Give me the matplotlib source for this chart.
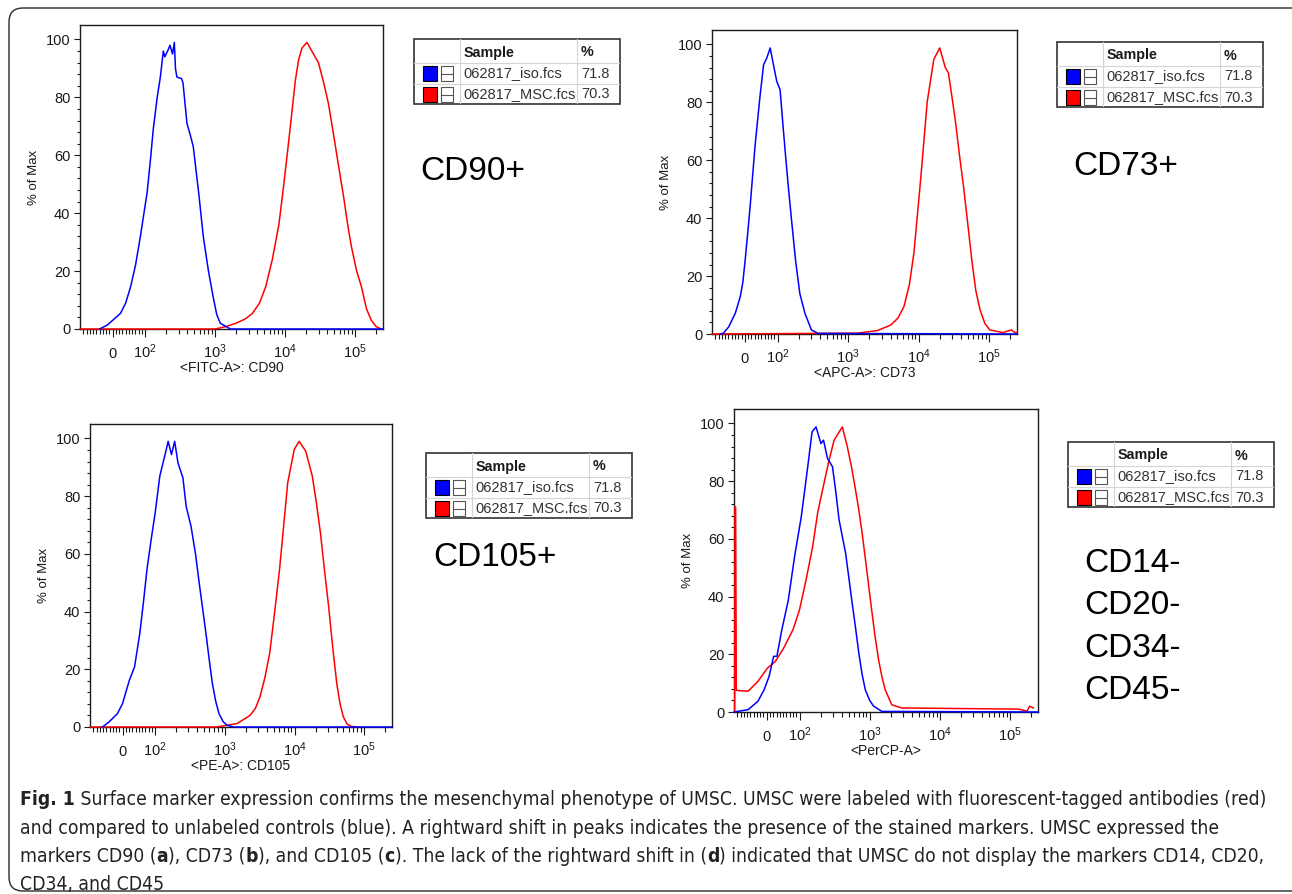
"""Flow cytometry histograms, Fig. 1 (UMSC surface markers), redrawn in matplotlib."""

import matplotlib as mpl
import matplotlib.pyplot as plt
from matplotlib import font_manager
from matplotlib.patches import Rectangle, FancyBboxPatch
from matplotlib.transforms import IdentityTransform
import numpy as np

W, H = 1292, 894
FONT = "Liberation Sans"
BLUE = "#0000ff"
RED = "#ff0000"
INK = "#1a1a1a"

mpl.rcParams.update({
    "font.family": [FONT, "DejaVu Sans"],
    "mathtext.fontset": "custom",
    "mathtext.rm": FONT,
    "mathtext.it": FONT + ":italic",
    "mathtext.bf": FONT + ":bold",
    "axes.linewidth": 1.0,
    "axes.edgecolor": INK,
})

# ---------------------------------------------------------------- data
# histogram outlines: fluorescence value, % of max
CD90_ISO_X = [-40, -16, 5, 24, 40, 55, 70, 85, 106, 118, 130, 148, 164, 181, 190,
              213, 225, 245, 260, 270, 283, 330, 346, 394, 440, 485, 580, 674,
              800, 935, 1050, 1180, 1640, 250000]
CD90_ISO_Y = [0, 1.4, 3.5, 5.4, 9, 14.6, 22, 32, 47, 58, 69, 80, 87, 96, 94,
              96.5, 98, 95, 99, 90, 87, 86.5, 85, 71, 67, 63, 47, 32,
              20, 11, 5, 2, 0, 0]
CD90_MSC_X = [-100, 1000, 1400, 1983, 2700, 3404, 4300, 5263, 6530, 8117, 9550,
              11240, 13990, 15560, 17340, 20420, 24000, 29870, 35500, 41390, 48700,
              57330, 68000, 79440, 88300, 105000, 123000, 145000, 170000, 200000,
              236000]
CD90_MSC_Y = [0, 0, 0.8, 2, 3.5, 5.4, 9, 14.6, 23.9, 36, 50,
              65, 86, 93, 97, 99, 96, 92, 85, 78, 67.7,
              57, 46, 35, 28.5, 20, 14.6, 7, 3, 0.8,
              0]

CD73_ISO_X = [-75, -65, -49, -29, -14, -6, 1, 8, 16, 31, 46, 57, 67, 77, 87, 97,
              108, 117, 127, 140, 157, 180, 206, 243, 301, 374, 250000]
CD73_ISO_Y = [0, 0.3, 2.5, 7.2, 12.9, 18, 25.6, 34, 44, 65, 82, 93, 95.4, 98.8, 93,
              87.3, 84.4, 74, 63.7, 52, 39.4, 25, 14, 7.2, 1.4, 0.2, 0]
CD73_MSC_X = [-100, 1370, 2620, 4040, 5100, 6210, 7400, 8590, 10670, 13250, 16440,
              19960, 23990, 26580, 33200, 38000, 43500, 50000, 57000, 65000, 74700,
              88000, 103000, 158000, 209000, 234000, 250000]
CD73_MSC_Y = [0, 0.3, 1.2, 3.1, 5.5, 9.5, 17, 28, 53, 80, 94.8,
              98.8, 92, 90.2, 74, 62, 51, 38, 25.6, 15, 8.3,
              3.5, 1.4, 0.5, 1.4, 0.5, 0.5]

CD105_ISO_X = [-62, -42, -16, 0, 10, 21, 37, 53, 64, 75, 88, 100, 117, 141, 154,
               172, 191, 213, 251, 279, 328, 380, 430, 537, 600, 664, 740, 826,
               950, 1080, 1340, 250000]
CD105_ISO_Y = [0, 1.7, 4.6, 8.1, 12, 16.2, 20.9, 32.4, 43, 54.5, 65, 74, 87, 95, 99,
               94.4, 99, 91.5, 86.3, 76.5, 69.5, 60, 49.8, 32.4, 23, 15, 9, 4.6,
               1.8, 0.6, 0, 0]
CD105_MSC_X = [-100, 770, 1500, 2300, 2750, 3190, 3750, 4400, 5200, 6090, 7000,
               7980, 9910, 11650, 14480, 17960, 20500, 23550, 27000, 30850, 35500,
               40400, 45000, 50100, 57000, 65600, 80000]
CD105_MSC_Y = [0, 0, 1.2, 4, 6.5, 10.4, 17, 25.5, 40, 54.5, 70,
               84.6, 96.2, 99, 95.6, 87, 78, 67.2, 54, 41.7, 27,
               15, 8, 3.5, 1, 0.2, 0]

NEG_ISO_X = [-100, -57, -27, -8, 7, 21, 31, 46, 66, 85, 106, 131, 151, 172, 202,
             220, 250, 295, 330, 366, 454, 563, 630, 700, 780, 866, 1000, 1140,
             1490, 250000]
NEG_ISO_Y = [0, 0.8, 3.7, 7.7, 12.3, 19.3, 19.3, 28.5, 38.9, 53.9, 67.7, 85, 97.1, 98.8, 93,
             94.2, 87.9, 85, 76, 66.6, 55, 37.7, 29, 20.4, 13, 7.7, 4, 2,
             0.2, 0]
NEG_MSC_X = [-98, -97, -95, -93, -57, -27, 2, 26, 51, 80, 100, 124, 154, 181, 213,
             264, 311, 366, 408, 479, 550, 628, 700, 780, 900, 1023, 1180, 1340,
             1500, 1664, 2063, 2851, 132700, 174000, 190000, 215000]
NEG_MSC_Y = [0, 71, 71, 7.5, 7.2, 10.6, 15.2, 17.5, 22, 28.5, 35.4, 45.8, 57.3, 68.9, 77,
             87.3, 94.2, 97, 98.8, 92, 85, 77, 70, 62, 50, 38.9, 27, 18,
             12, 7.7, 2.5, 1.4, 1, 0.3, 2, 1.4]

X_MAJOR = [0, 1e2, 1e3, 1e4, 1e5]
X_MAJOR_LABELS = ["0", "$10^2$", "$10^3$", "$10^4$", "$10^5$"]
Y_MAJOR = [0, 20, 40, 60, 80, 100]

SAMPLE_NAMES = ["062817_iso.fcs", "062817_MSC.fcs"]
SAMPLE_PCT = ["71.8", "70.3"]
SAMPLE_COLORS = [BLUE, RED]

MARKER_LABELS = ["CD90+", "CD73+", "CD105+", "CD14-\nCD20-\nCD34-\nCD45-"]
X_LABELS = ["<FITC-A>: CD90", "<APC-A>: CD73", "<PE-A>: CD105", "<PerCP-A>"]

CAPTION = [
    [("Fig. 1", True),
     (" Surface marker expression confirms the mesenchymal phenotype of UMSC. "
      "UMSC were labeled with fluorescent-tagged antibodies (red)", False)],
    [("and compared to unlabeled controls (blue). A rightward shift in peaks "
      "indicates the presence of the stained markers. UMSC expressed the", False)],
    [("markers CD90 (", False), ("a", True), ("), CD73 (", False), ("b", True),
     ("), and CD105 (", False), ("c", True),
     ("). The lack of the rightward shift in (", False), ("d", True),
     (") indicated that UMSC do not display the markers CD14, CD20,", False)],
    [("CD34, and CD45", False)],
]


def px_axes(fig, l, t, r, b):
    return fig.add_axes([l / W, 1 - b / H, (r - l) / W, (b - t) / H])


def minor_x():
    lin = [v for v in range(-90, 100, 10) if v != 0]
    logs = [k * 10 ** e for e in (2, 3, 4) for k in range(2, 10)] + [2e5]
    return lin + logs


def histogram(fig, rect, iso, msc, xlabel):
    ax = px_axes(fig, *rect)
    ax.set_xscale("symlog", linthresh=100, linscale=0.42, base=10)
    ax.plot(msc[0], msc[1], color=RED, lw=1.1, clip_on=False, zorder=3)
    ax.plot(iso[0], iso[1], color=BLUE, lw=1.1, clip_on=False, zorder=4)
    ax.set_xlim(-100, 250000)
    ax.set_ylim(0, 105)
    ax.set_xticks(X_MAJOR, X_MAJOR_LABELS)
    ax.set_xticks(minor_x(), minor=True)
    ax.set_yticks(Y_MAJOR)
    ax.set_yticks(np.arange(0, 101, 4), minor=True)
    ax.tick_params(axis="both", which="both", direction="out", color=INK,
                   width=0.8, labelsize=10.5, labelcolor=INK)
    ax.tick_params(axis="y", which="major", length=4.5, pad=2.5)
    ax.tick_params(axis="y", which="minor", length=2.5)
    ax.tick_params(axis="x", which="major", length=6, pad=15)
    ax.tick_params(axis="x", which="minor", length=3.5)
    for lbl in ax.get_xticklabels():
        lbl.set_va("baseline")
    h = rect[3] - rect[1]
    w = rect[2] - rect[0]
    ax.text(0.5, -39 / h, xlabel, transform=ax.transAxes, ha="center",
            va="center", fontsize=10, color=INK)
    ax.text(-46 / w, 0.5, "% of Max", transform=ax.transAxes, ha="center",
            va="center", rotation=90, fontsize=9.5, color=INK)
    return ax


def legend_table(fig, left, top):
    w, h = 206, 65
    ax = px_axes(fig, left, top, left + w, top + h)
    ax.set_xlim(0, w)
    ax.set_ylim(h, 0)
    ax.axis("off")
    grid = "#d4d4d4"
    for x in (46, 163):
        ax.plot([x, x], [0, h], color=grid, lw=0.8)
    for y in (24, 45):
        ax.plot([0, w], [y, y], color=grid, lw=0.8)
    ax.add_patch(Rectangle((0, 0), w, h, fill=False, ec="#333333", lw=1.2,
                           clip_on=False))
    ax.text(50, 13.5, "Sample", fontsize=10.3, fontweight="bold", va="center",
            color=INK)
    ax.text(167, 13.5, "%", fontsize=10.3, fontweight="bold", va="center",
            color=INK)
    for i, (name, pct, c) in enumerate(zip(SAMPLE_NAMES, SAMPLE_PCT, SAMPLE_COLORS)):
        yc = 34.5 + 21 * i
        ax.add_patch(Rectangle((9, yc - 7.5), 14, 15, fc=c, ec="black", lw=0.8))
        ax.add_patch(Rectangle((27, yc - 7.5), 12, 15, fc="white", ec="#555555",
                               lw=0.8))
        ax.plot([27, 39], [yc, yc], color="#555555", lw=0.8)
        ax.text(49, yc, name, fontsize=10.5, va="center", color="#333333")
        ax.text(167, yc, pct, fontsize=10.5, va="center", color="#333333")


def caption_font():
    names = {f.name: f for f in font_manager.fontManager.ttflist}
    if "Liberation Sans Narrow" in names:
        return "Liberation Sans Narrow", "normal"
    for f in font_manager.fontManager.ttflist:
        if f.name == "DejaVu Sans" and f.stretch == "condensed":
            return "DejaVu Sans", "condensed"
    return FONT, "normal"


def draw_caption(fig):
    family, stretch = caption_font()
    renderer = fig.canvas.get_renderer()
    tr = IdentityTransform()

    def place(line, x0, y, size, draw=True):
        x = x0
        arts = []
        for txt, bold in line:
            t = fig.text(x, H - y, txt, transform=tr, fontsize=size,
                         family=family, stretch=stretch, color="#222222",
                         fontweight="bold" if bold else "normal",
                         ha="left", va="baseline")
            x = x + t.get_window_extent(renderer).width
            arts.append(t)
        if not draw:
            for t in arts:
                t.remove()
        return x - x0

    # fit the first line to the width it takes in the figure
    width = place(CAPTION[0], 20, 805, 12, draw=False)
    size = 12 * 1242 / width
    for line, y in zip(CAPTION, (805, 834, 862, 890)):
        place(line, 20, y, size)


fig = plt.figure(figsize=(W / 100, H / 100), dpi=100)
fig.patch.set_facecolor("white")

fig.add_artist(FancyBboxPatch((9, H - 891), 1320, 883,
                              boxstyle="round,pad=0,rounding_size=14",
                              transform=IdentityTransform(), fc="none",
                              ec="#2a2a2a", lw=1.0))

panels = [
    ((80, 25, 383, 329), (CD90_ISO_X, CD90_ISO_Y), (CD90_MSC_X, CD90_MSC_Y)),
    ((712, 30, 1017, 334), (CD73_ISO_X, CD73_ISO_Y), (CD73_MSC_X, CD73_MSC_Y)),
    ((90, 424, 392, 727), (CD105_ISO_X, CD105_ISO_Y), (CD105_MSC_X, CD105_MSC_Y)),
    ((734, 409, 1038, 712), (NEG_ISO_X, NEG_ISO_Y), (NEG_MSC_X, NEG_MSC_Y)),
]
for (rect, iso, msc), xl in zip(panels, X_LABELS):
    histogram(fig, rect, iso, msc, xl)

for left, top in ((414, 39), (1057, 42), (426, 453), (1068, 442)):
    legend_table(fig, left, top)

marker_pos = [(420, 172), (1073, 167), (433, 557), (1084, 627)]
for (x, y), lbl in zip(marker_pos, MARKER_LABELS):
    fig.text(x / W, 1 - y / H, lbl, fontsize=24, ha="left", va="center",
             color="black", linespacing=1.46)

draw_caption(fig)

fig.savefig("out.png", dpi=100)
